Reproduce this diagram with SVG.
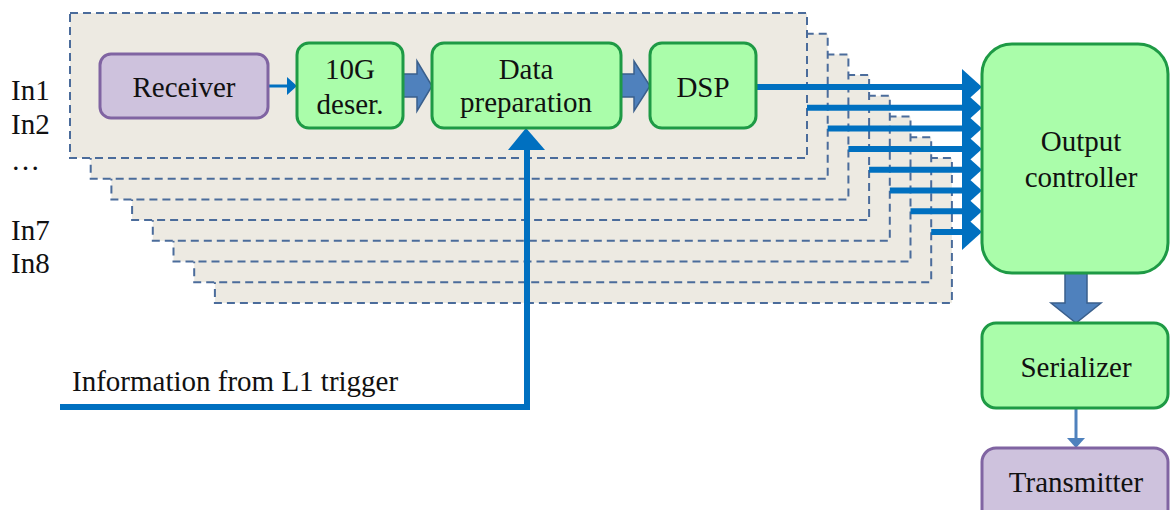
<svg xmlns="http://www.w3.org/2000/svg" width="1170" height="510" viewBox="0 0 1170 510">
  <defs>
    <style>
      .lane { fill: #EDEAE2; stroke: #4B6C9B; stroke-width: 2; stroke-dasharray: 8 5; }
      .green { fill: #AAFDAA; stroke: #1E9A45; stroke-width: 3; }
      .purple { fill: #CEC2DD; stroke: #8064A2; stroke-width: 3; }
      .bus { stroke: #0070C0; stroke-width: 6; fill: none; }
      .thin { stroke: #0070C0; stroke-width: 3; fill: none; }
      .head { fill: #0070C0; }
      .block { fill: #4F81BD; stroke: #3A5F8C; stroke-width: 1.5; }
    </style>
  </defs>
  <rect width="1170" height="510" fill="#ffffff"/>

  <!-- eight stacked input channels, back to front -->
  <g id="channels">
    <rect class="lane" x="214.9" y="157.9" width="737" height="145"/>
    <rect class="lane" x="194.2" y="137.2" width="737" height="145"/>
    <rect class="lane" x="173.5" y="116.5" width="737" height="145"/>
    <rect class="lane" x="152.8" y="95.8" width="737" height="145"/>
    <rect class="lane" x="132.1" y="75.1" width="737" height="145"/>
    <rect class="lane" x="111.4" y="54.4" width="737" height="145"/>
    <rect class="lane" x="90.7" y="33.7" width="737" height="145"/>
    <rect class="lane" x="70" y="13" width="737" height="145"/>
  </g>

  <g id="connectors">
    <!-- receiver to deserializer -->
    <line class="thin" x1="268" y1="86" x2="289" y2="86"/>
    <polygon class="head" points="287,77 297,86 287,95"/>
    <!-- block arrows along the channel -->
    <polygon class="block" points="403,74 417,74 417,61 432,86 417,111 417,97 403,97"/>
    <polygon class="block" points="621,74 634,74 634,61 650,86 634,111 634,97 621,97"/>
    <!-- channel outputs into the output controller -->
    <line class="bus" x1="756" y1="87" x2="966" y2="87"/>
    <line class="bus" x1="807" y1="107.7" x2="966" y2="107.7"/>
    <line class="bus" x1="827.7" y1="128.4" x2="966" y2="128.4"/>
    <line class="bus" x1="848.4" y1="149.1" x2="966" y2="149.1"/>
    <line class="bus" x1="869.1" y1="169.8" x2="966" y2="169.8"/>
    <line class="bus" x1="889.8" y1="190.5" x2="966" y2="190.5"/>
    <line class="bus" x1="910.5" y1="211.2" x2="966" y2="211.2"/>
    <line class="bus" x1="931.2" y1="231.9" x2="966" y2="231.9"/>
    <polygon class="head" points="962,69 982,87 962,105"/>
    <polygon class="head" points="962,89.7 982,107.7 962,125.7"/>
    <polygon class="head" points="962,110.4 982,128.4 962,146.4"/>
    <polygon class="head" points="962,131.1 982,149.1 962,167.1"/>
    <polygon class="head" points="962,151.8 982,169.8 962,187.8"/>
    <polygon class="head" points="962,172.5 982,190.5 962,208.5"/>
    <polygon class="head" points="962,193.2 982,211.2 962,229.2"/>
    <polygon class="head" points="962,213.9 982,231.9 962,249.9"/>
    <!-- L1 trigger into data preparation -->
    <path class="bus" d="M60,407 H527 V148"/>
    <polygon class="head" points="508,150 526,128 545,150"/>
    <!-- output controller to serializer -->
    <polygon class="block" points="1065,273 1087,273 1087,303 1101,303 1076,323 1051,303 1065,303"/>
    <!-- serializer to transmitter -->
    <line x1="1076" y1="408" x2="1076" y2="440" stroke="#4F81BD" stroke-width="3"/>
    <polygon points="1067,438 1076,448 1085,438" fill="#4F81BD"/>
  </g>

  <g font-family="'Liberation Serif', 'DejaVu Serif', serif" font-size="29" fill="#111">
    <!-- input labels -->
    <g id="inputs">
      <text x="11" y="100">In1</text>
      <text x="11" y="134">In2</text>
      <text x="11" y="170">…</text>
      <text x="11" y="240">In7</text>
      <text x="11" y="273">In8</text>
    </g>
    <g id="receiver">
      <rect class="purple" x="100" y="54" width="168" height="64" rx="11"/>
      <text x="184" y="97" text-anchor="middle">Receiver</text>
    </g>
    <g id="deserializer">
      <rect class="green" x="297" y="43" width="106" height="85" rx="12"/>
      <text x="350" y="79" text-anchor="middle">10G</text>
      <text x="350" y="114" text-anchor="middle">deser.</text>
    </g>
    <g id="data-preparation">
      <rect class="green" x="432" y="43" width="189" height="85" rx="12"/>
      <text x="526" y="79" text-anchor="middle">Data</text>
      <text x="526" y="112" text-anchor="middle">preparation</text>
    </g>
    <g id="dsp">
      <rect class="green" x="650" y="43" width="106" height="85" rx="12"/>
      <text x="703" y="97" text-anchor="middle">DSP</text>
    </g>
    <g id="output-controller">
      <rect class="green" x="982" y="44" width="186" height="229" rx="30"/>
      <text x="1081" y="151" text-anchor="middle">Output</text>
      <text x="1081" y="187" text-anchor="middle">controller</text>
    </g>
    <g id="serializer">
      <rect class="green" x="982" y="323" width="186" height="85" rx="14"/>
      <text x="1076" y="377" text-anchor="middle">Serializer</text>
    </g>
    <g id="transmitter">
      <rect class="purple" x="982" y="448" width="186" height="80" rx="14"/>
      <text x="1076" y="492" text-anchor="middle">Transmitter</text>
    </g>
    <g id="trigger-label">
      <text x="72" y="391">Information from L1 trigger</text>
    </g>
  </g>
</svg>
